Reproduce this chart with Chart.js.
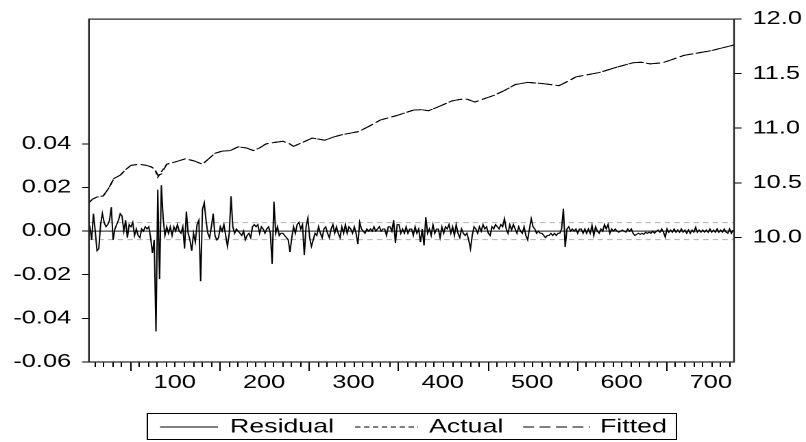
<!DOCTYPE html>
<html>
<head>
<meta charset="utf-8">
<script src="https://cdn.jsdelivr.net/npm/chart.js@4.4.1/dist/chart.umd.min.js"></script>
<style>
    html, body { margin: 0; padding: 0; background: #fff; overflow: hidden; }
    /* the original graph is stretched sideways, so the whole canvas is too */
    #wrap { width: 588px; height: 442px; transform: scaleX(1.37075); transform-origin: 0 0; }
</style>
</head>
<body>
<div id="wrap"><canvas id="chart" width="588" height="442"></canvas></div>
<script>
// Residual, sampled every 2 observations starting at obs 3
const RES_START = 3;
const RES_STEP = 2;
const residualValues = [
    // obs 3 - 147
    0.001, 0.002, -0.004, 0.008, 0.000, -0.009, -0.008, 0.003, 0.008, 0.004,
    0.002, 0.003, 0.005, 0.011, -0.004, 0.001, 0.003, 0.005, 0.008, 0.007,
    0.000, 0.005, -0.003, 0.003, 0.002, 0.004, -0.002, 0.001, -0.002, -0.003,
    0.001, 0.000, 0.002, 0.001, 0.002, -0.003, -0.010, -0.004, -0.046, 0.019,
    -0.022, 0.021, 0.006, -0.002, 0.002, -0.001, 0.002, -0.002, 0.002, 0.000,
    0.003, 0.000, -0.001, 0.002, -0.008, 0.009, -0.001, -0.004, -0.009, -0.001,
    -0.005, 0.003, 0.005, -0.023, 0.010, 0.013, 0.005, -0.001, -0.003, 0.002,
    0.008, -0.002, -0.004,
    // obs 149 - 333
    -0.003, 0.002, 0.000, 0.003, -0.002, -0.007, -0.001, 0.016, 0.002, -0.001,
    0.001, 0.000, -0.001, -0.002, 0.000, -0.004, -0.002, -0.001, -0.003, 0.002,
    0.003, 0.002, 0.003, -0.001, 0.002, 0.001, -0.001, 0.001, 0.002, -0.001,
    -0.015, 0.0135, -0.001, 0.002, -0.002, -0.001, -0.001, -0.002, -0.003, -0.004,
    -0.0096, -0.003, 0.002, -0.001, 0.003, 0.004, 0.001, 0.003, -0.011, 0.002,
    0.006, -0.003, -0.007, -0.004, -0.001, -0.002, 0.002, -0.001, -0.003, 0.001,
    0.002, -0.001, -0.003, 0.001, 0.003, -0.001, 0.002, -0.001, -0.003, 0.002,
    -0.001, 0.003, -0.001, 0.002, 0.001, -0.001, 0.002, -0.001, -0.006, 0.004,
    0.001, 0.000, -0.001, 0.001, 0.000, 0.001, 0.000, 0.002, 0.000, 0.001,
    0.002, 0.000, 0.001,
    // obs 335 - 529
    0.001, -0.002, 0.002, 0.002, 0.000, 0.005, -0.0055, 0.003, 0.003, -0.001,
    0.001, -0.001, 0.002, -0.001, 0.001, 0.001, -0.002, 0.002, -0.001, 0.001,
    -0.005, 0.001, -0.0066, 0.0064, -0.001, 0.001, -0.002, 0.003, -0.001, 0.001,
    0.001, -0.003, 0.002, -0.001, 0.002, 0.001, 0.003, -0.001, 0.002, -0.002,
    0.003, -0.001, -0.003, 0.001, -0.001, -0.002, -0.001, -0.004, -0.0081, -0.002,
    0.002, 0.001, -0.001, 0.002, 0.000, 0.003, 0.001, 0.002, -0.001, -0.002,
    0.002, 0.001, 0.003, 0.002, 0.001, 0.003, 0.002, 0.0057, 0.001, -0.001,
    0.003, 0.0005, 0.003, 0.001, -0.001, 0.002, 0.000, -0.001, 0.002, -0.002,
    -0.004, 0.001, 0.0057, 0.002, 0.001, -0.001, 0.000, -0.001, -0.001, -0.002,
    -0.003, -0.002, -0.002, -0.001, -0.002, -0.001, -0.002, -0.001,
    // obs 531 - 725
    -0.001, 0.001, 0.0103, -0.0073, 0.001, 0.002, 0.000, 0.001, 0.000, 0.001,
    -0.001, 0.001, 0.001, -0.001, 0.001, -0.001, 0.001, -0.001, 0.0026, -0.002,
    0.002, 0.000, -0.001, 0.001, 0.000, 0.003, 0.001, 0.003, -0.001, 0.001,
    0.000, 0.001, 0.000, -0.0005, 0.000, 0.0005, 0.000, -0.0005, 0.001, 0.000,
    0.001, -0.001, -0.002, -0.0015, -0.001, -0.0015, -0.001, -0.0015, -0.0005, -0.001,
    -0.0005, -0.001, 0.000, -0.001, 0.000, 0.0005, -0.0005, 0.001, -0.0005, -0.0028,
    0.001, -0.0005, 0.0005, -0.0005, 0.001, -0.0005, 0.0005, -0.0005, 0.001, -0.0005,
    0.0005, -0.001, 0.0005, -0.001, 0.0005, -0.0005, 0.0018, -0.0005, 0.0005, -0.0005,
    0.0005, -0.0005, 0.0005, -0.0005, 0.001, -0.0005, 0.0005, -0.0005, 0.001, -0.0005,
    0.0005, -0.0005, 0.001, -0.0005, -0.001, 0.001, -0.001, 0.0005
];

// Actual / Fitted (right axis), read at turning points of the curve
const curveObs = [
    3, 8, 13, 20, 26, 32, 39, 45, 51, 60, 68, 74, 78, 81, 85, 91, 100, 112, 122, 131,
    138, 145, 153, 162, 171, 180, 188, 195, 202, 212, 221, 228, 233, 243, 254, 261, 268, 278, 287, 306,
    318, 330, 350, 367, 376, 384, 396, 410, 420, 427, 436, 446, 457, 470, 481, 495, 503, 511, 521, 530,
    540, 549, 562, 575, 595, 613, 622, 632, 646, 657, 670, 700, 726
];
const actualValues = [
    10.31, 10.35, 10.37, 10.38, 10.45, 10.54, 10.57, 10.62, 10.66, 10.67, 10.66, 10.645, 10.62, 10.55, 10.60, 10.67, 10.69, 10.72, 10.70, 10.67,
    10.72, 10.77, 10.79, 10.795, 10.83, 10.82, 10.795, 10.82, 10.856, 10.87, 10.88, 10.86, 10.834, 10.87, 10.91, 10.90, 10.89, 10.92, 10.94, 10.97,
    11.02, 11.075, 11.12, 11.166, 11.17, 11.16, 11.20, 11.25, 11.265, 11.267, 11.24, 11.27, 11.30, 11.35, 11.40, 11.42, 11.415, 11.41, 11.40, 11.39,
    11.43, 11.47, 11.49, 11.51, 11.56, 11.60, 11.605, 11.59, 11.60, 11.63, 11.668, 11.71, 11.763
];
const fittedValues = [
    10.31, 10.35, 10.37, 10.38, 10.45, 10.54, 10.57, 10.62, 10.66, 10.67, 10.66, 10.645, 10.62, 10.57, 10.58, 10.67, 10.69, 10.72, 10.70, 10.67,
    10.72, 10.77, 10.79, 10.795, 10.83, 10.82, 10.795, 10.82, 10.856, 10.87, 10.88, 10.86, 10.834, 10.87, 10.91, 10.90, 10.89, 10.92, 10.94, 10.97,
    11.02, 11.075, 11.12, 11.166, 11.17, 11.16, 11.20, 11.25, 11.265, 11.267, 11.24, 11.27, 11.30, 11.35, 11.40, 11.42, 11.415, 11.41, 11.40, 11.39,
    11.43, 11.47, 11.49, 11.51, 11.56, 11.60, 11.605, 11.59, 11.60, 11.63, 11.668, 11.71, 11.763
];

// +/- one standard error band around zero
const bandLevels = [0.0039, -0.0039];
const zeroLevel = 0;

// axis tick labels
const xTickLabels = [100, 200, 300, 400, 500, 600, 700];
const leftTickLabels = ['-0.06', '-0.04', '-0.02', '0.00', '0.02', '0.04'];
const rightTickLabels = ['10.0', '10.5', '11.0', '11.5', '12.0'];
const legendLabels = ['Residual', 'Actual', 'Fitted'];

const X_MIN = 4, X_MAX = 726;
const FONT = '"Liberation Sans", Arial, sans-serif';

function residualPoints() {
    return residualValues.map((v, i) => ({ x: RES_START + i * RES_STEP, y: v }));
}

function curvePoints(values) {
    return curveObs.map((o, i) => ({ x: o, y: values[i] }));
}

function flatLine(level) {
    return [{ x: X_MIN, y: level }, { x: X_MAX, y: level }];
}

// frame, long x ticks and the boxed legend
const framePlugin = {
    id: 'frame',
    afterDraw(chart) {
        const { ctx, chartArea: a, scales } = chart;
        ctx.save();

        // x tick marks (longer ones at the 50s)
        ctx.strokeStyle = '#000';
        ctx.lineWidth = 1;
        ctx.beginPath();
        scales.x.ticks.forEach(t => {
            const px = Math.round(scales.x.getPixelForValue(t.value)) + 0.5;
            const len = t.value % 100 === 50 ? 9 : 5;
            ctx.moveTo(px, a.bottom);
            ctx.lineTo(px, a.bottom + len);
        });
        ctx.stroke();

        // plot frame
        ctx.strokeStyle = '#222';
        ctx.lineWidth = 1.2;
        ctx.strokeRect(a.left, a.top, a.right - a.left, a.bottom - a.top);

        // legend
        const ly = 427;
        ctx.strokeStyle = '#000';
        ctx.lineWidth = 1;
        ctx.strokeRect(107.5, 413.5, 386, 26);

        ctx.beginPath();
        ctx.moveTo(116.7, ly); ctx.lineTo(159, ly);
        ctx.stroke();

        ctx.setLineDash([4, 2.5]);
        ctx.beginPath();
        ctx.moveTo(259, ly); ctx.lineTo(305, ly);
        ctx.stroke();

        ctx.setLineDash([8, 4]);
        ctx.beginPath();
        ctx.moveTo(381.6, ly); ctx.lineTo(430.4, ly);
        ctx.stroke();
        ctx.setLineDash([]);

        ctx.fillStyle = '#000';
        ctx.font = '19.5px ' + FONT;
        ctx.textBaseline = 'middle';
        ctx.textAlign = 'left';
        ctx.fillText(legendLabels[0], 167.8, ly);
        ctx.fillText(legendLabels[1], 313, ly);
        ctx.fillText(legendLabels[2], 437.7, ly);

        ctx.restore();
    }
};

const ctx = document.getElementById('chart').getContext('2d');
const chart = new Chart(ctx, {
    type: 'line',
    data: {
        datasets: [
            {
                label: legendLabels[0],
                data: residualPoints(),
                yAxisID: 'y',
                borderColor: '#000',
                borderWidth: 1,
                pointRadius: 0,
                order: 0
            },
            {
                label: legendLabels[1],
                data: curvePoints(actualValues),
                yAxisID: 'y2',
                borderColor: '#000',
                borderWidth: 1,
                borderDash: [4, 2.5],
                pointRadius: 0,
                order: 1
            },
            {
                label: legendLabels[2],
                data: curvePoints(fittedValues),
                yAxisID: 'y2',
                borderColor: '#000',
                borderWidth: 1,
                borderDash: [8, 4],
                pointRadius: 0,
                order: 2
            },
            {
                label: 'zero',
                data: flatLine(zeroLevel),
                yAxisID: 'y',
                borderColor: '#444',
                borderWidth: 1.2,
                pointRadius: 0,
                order: 5
            },
            {
                label: 'upper',
                data: flatLine(bandLevels[0]),
                yAxisID: 'y',
                borderColor: '#b0b0b0',
                borderWidth: 1,
                borderDash: [4, 3],
                pointRadius: 0,
                order: 6
            },
            {
                label: 'lower',
                data: flatLine(bandLevels[1]),
                yAxisID: 'y',
                borderColor: '#b0b0b0',
                borderWidth: 1,
                borderDash: [4, 3],
                pointRadius: 0,
                order: 6
            }
        ]
    },
    options: {
        responsive: false,
        animation: false,
        devicePixelRatio: 2,
        layout: { padding: { top: 18, left: 0, right: 0, bottom: 0 } },
        plugins: {
            legend: { display: false },
            tooltip: { enabled: false }
        },
        elements: { line: { tension: 0 } },
        scales: {
            x: {
                type: 'linear',
                min: X_MIN,
                max: X_MAX,
                afterFit: s => { s.height = 80; },
                border: { display: false },
                grid: { drawOnChartArea: false, drawTicks: true, tickLength: 4, tickColor: 'rgba(0,0,0,0)' },
                ticks: {
                    stepSize: 10,
                    includeBounds: false,
                    autoSkip: false,
                    maxRotation: 0,
                    padding: 6,
                    color: '#000',
                    font: { family: FONT, size: 18.5 },
                    callback: v => xTickLabels.includes(v) ? String(v) : ''
                }
            },
            y: {
                position: 'left',
                min: -0.06,
                max: 0.0972,
                afterFit: s => { s.width = 64.9; },
                afterBuildTicks: s => {
                    s.ticks = s.ticks.filter(t => leftTickLabels.includes(fmt2(t.value)));
                },
                border: { display: false },
                grid: { drawOnChartArea: false, tickLength: 5, tickColor: '#000' },
                ticks: {
                    stepSize: 0.02,
                    includeBounds: false,
                    padding: 8,
                    color: '#000',
                    font: { family: FONT, size: 18.5 },
                    callback: v => fmt2(v)
                }
            },
            y2: {
                position: 'right',
                min: 8.858,
                max: 12.0,
                afterFit: s => { s.width = 52.5; },
                afterBuildTicks: s => {
                    s.ticks = s.ticks.filter(t => rightTickLabels.includes(t.value.toFixed(1)));
                },
                border: { display: false },
                grid: { drawOnChartArea: false, tickLength: 5.5, tickColor: '#000' },
                ticks: {
                    stepSize: 0.5,
                    includeBounds: false,
                    padding: 8,
                    color: '#000',
                    font: { family: FONT, size: 18.5 },
                    callback: v => v.toFixed(1)
                }
            }
        }
    },
    plugins: [framePlugin]
});

function fmt2(v) {
    if (Math.abs(v) < 1e-9) return '0.00';
    return v.toFixed(2);
}
</script>
</body>
</html>
